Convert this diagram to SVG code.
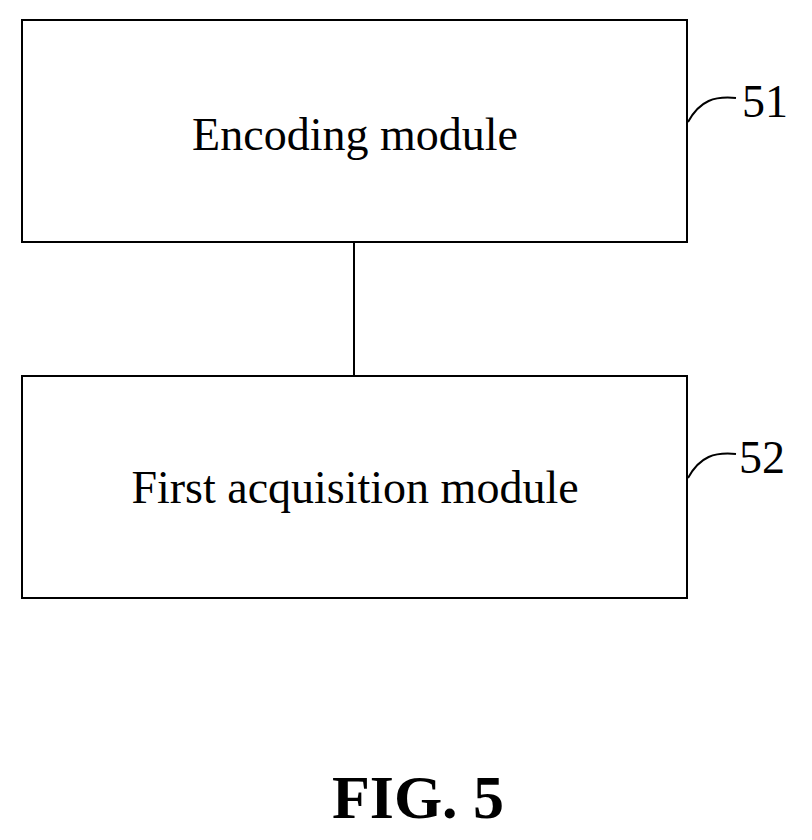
<svg xmlns="http://www.w3.org/2000/svg" width="812" height="840" viewBox="0 0 812 840">
<style>
.box{fill:#fff;stroke:#000;stroke-width:2}
.t{font-family:"Liberation Serif",serif;font-size:46px;text-anchor:middle;fill:#000}
.ln{fill:none;stroke:#000;stroke-width:2}
</style>
<rect width="812" height="840" fill="#fff"/>
<g id="connectors">
<line class="ln" x1="354" y1="242" x2="354" y2="376"/>
<path class="ln" d="M688,122 C700,100 715,96 736,98"/>
<path class="ln" d="M688,478 C700,456 715,452 736,454"/>
</g>
<g id="n51">
<rect class="box" x="22" y="20" width="665" height="222"/>
<text class="t" x="355" y="150">Encoding module</text>
<text class="t" x="765" y="117">51</text>
</g>
<g id="n52">
<rect class="box" x="22" y="376" width="665" height="222"/>
<text class="t" x="355" y="503">First acquisition module</text>
<text class="t" x="762" y="473">52</text>
</g>
<text x="418" y="818" style="font-family:'Liberation Serif',serif;font-size:62px;font-weight:bold;text-anchor:middle">FIG. 5</text>
</svg>
